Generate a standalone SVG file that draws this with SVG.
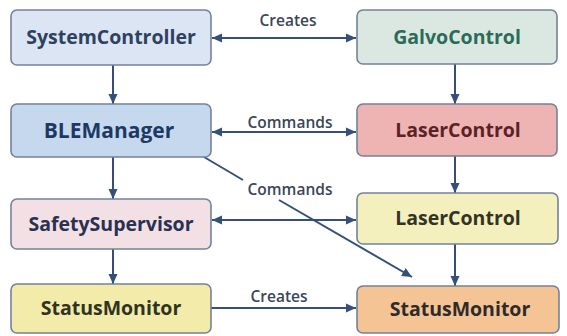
<svg xmlns="http://www.w3.org/2000/svg" width="567" height="336" viewBox="0 0 567 336">
  <style>
    .box { stroke: #73829a; stroke-width: 1.6; }
    .name { font-family: "Open Sans", "Noto Sans", "DejaVu Sans", sans-serif; font-weight: 700; font-size: 19.5px; text-anchor: middle; }
    .lbl { font-family: "Open Sans", "Noto Sans", "DejaVu Sans", sans-serif; font-weight: 600; font-size: 15.5px; fill: #3a4658; text-anchor: middle; }
    .wire { stroke: #34507a; stroke-width: 2; fill: none; }
  </style>
  <defs>
    <marker id="head" viewBox="0 0 10 10" refX="10" refY="5" markerWidth="10" markerHeight="10" markerUnits="userSpaceOnUse" orient="auto-start-reverse">
      <path d="M0,0.5 L10,5 L0,9.5 Z" fill="#34507a"/>
    </marker>
  </defs>
  <rect width="567" height="336" fill="#ffffff"/>

  <g id="connectors">
    <!-- horizontal links -->
    <line class="wire" x1="212" y1="38" x2="356" y2="38" marker-start="url(#head)" marker-end="url(#head)"/>
    <line class="wire" x1="212" y1="132" x2="356" y2="132" marker-start="url(#head)" marker-end="url(#head)"/>
    <line class="wire" x1="212" y1="220" x2="356" y2="220" marker-start="url(#head)" marker-end="url(#head)"/>
    <line class="wire" x1="211" y1="308" x2="356" y2="308" marker-end="url(#head)"/>
    <!-- vertical links, left column -->
    <line class="wire" x1="113" y1="65" x2="113" y2="104" marker-end="url(#head)"/>
    <line class="wire" x1="113" y1="157" x2="113" y2="199" marker-end="url(#head)"/>
    <line class="wire" x1="113" y1="249" x2="113" y2="284" marker-end="url(#head)"/>
    <!-- vertical links, right column -->
    <line class="wire" x1="455" y1="64" x2="455" y2="104" marker-end="url(#head)"/>
    <line class="wire" x1="455" y1="156" x2="455" y2="193" marker-end="url(#head)"/>
    <line class="wire" x1="455" y1="244" x2="455" y2="286" marker-end="url(#head)"/>
    <!-- diagonal link, broken around its label -->
    <line class="wire" x1="204" y1="157" x2="243" y2="180"/>
    <line class="wire" x1="279" y1="200" x2="412" y2="277" marker-end="url(#head)"/>
    <!-- link labels -->
    <text class="lbl" x="288" y="26">Creates</text>
    <text class="lbl" x="290" y="128">Commands</text>
    <text class="lbl" x="290" y="195">Commands</text>
    <text class="lbl" x="279" y="302">Creates</text>
  </g>

  <g id="system-controller">
    <rect class="box" x="11" y="10" width="200" height="55" rx="6" fill="#dbe5f3"/>
    <text class="name" x="111" y="44" fill="#2f4160">SystemController</text>
  </g>
  <g id="ble-manager">
    <rect class="box" x="11" y="104" width="200" height="53" rx="6" fill="#c5d8ee"/>
    <text class="name" x="109" y="138" fill="#1e3864" style="font-size:21px">BLEManager</text>
  </g>
  <g id="safety-supervisor">
    <rect class="box" x="11" y="199" width="200" height="50" rx="6" fill="#f2e0e5"/>
    <text class="name" x="111" y="231" fill="#2a3150">SafetySupervisor</text>
  </g>
  <g id="status-monitor-left">
    <rect class="box" x="11" y="284" width="200" height="49" rx="6" fill="#f3eba9"/>
    <text class="name" x="111" y="315" fill="#2f3322">StatusMonitor</text>
  </g>
  <g id="galvo-control">
    <rect class="box" x="357" y="10" width="200" height="54" rx="6" fill="#dbe8e1"/>
    <text class="name" x="457" y="44" fill="#2c6b58">GalvoControl</text>
  </g>
  <g id="laser-control-red">
    <rect class="box" x="357" y="104" width="200" height="52" rx="6" fill="#eeb3b3"/>
    <text class="name" x="458" y="137" fill="#5b2226">LaserControl</text>
  </g>
  <g id="laser-control-yellow">
    <rect class="box" x="357" y="193" width="201" height="51" rx="6" fill="#f4f0bd"/>
    <text class="name" x="458" y="225" fill="#333325">LaserControl</text>
  </g>
  <g id="status-monitor-right">
    <rect class="box" x="357" y="286" width="202" height="47" rx="6" fill="#f5c495"/>
    <text class="name" x="460" y="316" fill="#2f2a2a">StatusMonitor</text>
  </g>
</svg>
